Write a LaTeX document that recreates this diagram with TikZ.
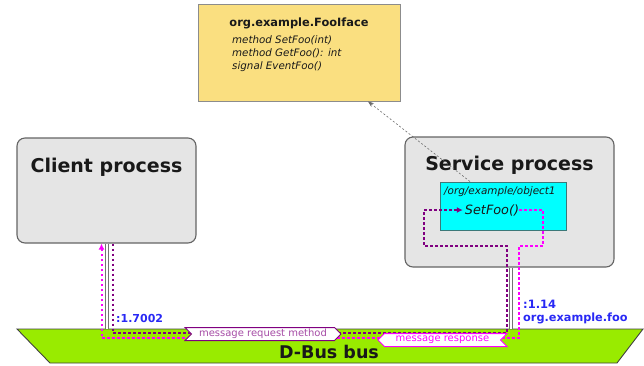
\documentclass[tikz,border=0pt]{standalone}
\usepackage{fontspec}
\setmainfont{DejaVu Sans}
\usetikzlibrary{shapes.symbols,arrows.meta}
\definecolor{boxgray}{RGB}{229,229,229}
\definecolor{bordergray}{RGB}{100,100,100}
\definecolor{ifaceyellow}{RGB}{250,223,128}
\definecolor{objcyan}{RGB}{0,255,255}
\definecolor{busgreen}{RGB}{153,235,0}
\definecolor{msgpurple}{RGB}{128,0,128}
\definecolor{msgmagenta}{RGB}{255,0,255}
\definecolor{addrblue}{RGB}{40,40,245}
\definecolor{inktext}{RGB}{25,25,25}
\tikzset{
  procbox/.style={draw=bordergray,line width=1.1pt,fill=boxgray,rounded corners=8pt,inner sep=0pt},
  objbox/.style={draw={rgb,255:red,60;green,120;blue,120},line width=0.9pt,fill=objcyan,inner sep=0pt},
  ifacebox/.style={draw={rgb,255:red,140;green,140;blue,140},line width=0.9pt,fill=ifaceyellow,inner sep=0pt},
  txt/.style={inner sep=0pt,text=inktext},
  conn/.style={draw=gray!90!black,line width=0.9pt,double=white,double distance=2pt},
  reqline/.style={draw=msgpurple,line width=2pt,dash pattern=on 2.5pt off 2.5pt},
  respline/.style={draw=msgmagenta,line width=2pt,dash pattern=on 2.5pt off 2.5pt},
  reqlabel/.style={signal,signal to=east,signal from=west,draw=msgpurple,line width=1pt,fill=white,
     text=msgpurple!70,inner sep=1pt,minimum height=13pt,font=\fontsize{10}{11}\selectfont},
  resplabel/.style={signal,signal to=west,signal from=east,draw=msgmagenta,line width=1pt,fill=white,
     text=msgmagenta,inner sep=1pt,minimum height=13pt,font=\fontsize{10}{11}\selectfont},
  addr/.style={inner sep=0pt,text=addrblue,font=\fontsize{11}{12}\selectfont\bfseries},
  methodtxt/.style={inner sep=0pt,anchor=west,text=inktext,font=\fontsize{10.3}{12}\selectfont\itshape},
  reftip/.style={-{Stealth[length=6pt,width=4.5pt]},draw=gray!85!black,line width=0.6pt,dash pattern=on 2pt off 2pt}
}
\begin{document}
\begin{tikzpicture}[x=1pt,y=-1pt]
\useasboundingbox (0,0) rectangle (644,365);
% bus
\draw[draw=black!75,line width=0.9pt,fill=busgreen] (17,329) -- (643,329) -- (617,363) -- (50,363) -- cycle;
\node[txt,font=\fontsize{17.5}{19}\selectfont\bfseries] (busname) at (329,352) {D-Bus bus};
\coordinate (bustop) at (0,329);
% boxes
\node[procbox,minimum width=179pt,minimum height=105pt] (client) at (106.5,190.5) {};
\node[procbox,minimum width=209pt,minimum height=130pt] (service) at (509.5,202) {};
\node[objbox,minimum width=126pt,minimum height=48pt] (object) at (503,206) {};
\node[ifacebox,minimum width=202pt,minimum height=97pt] (iface) at (299,52.5) {};
% connectors to bus
\draw[conn] ([xshift=0.5pt]client.south) -- ([xshift=0.5pt]client.south |- bustop);
\draw[conn] ([xshift=1.5pt]service.south) -- ([xshift=1.5pt]service.south |- bustop);
% texts
\node[txt,font=\fontsize{19}{21}\selectfont\bfseries] (clientname) at (106.5,167) {Client process};
\node[txt,font=\fontsize{19}{21}\selectfont\bfseries] (servicename) at (509.5,165) {Service process};
\node[txt,anchor=west,font=\fontsize{10.4}{12}\selectfont\itshape] (objpath) at (444,192) {/org/example/object1};
\node[txt,font=\fontsize{12.8}{14}\selectfont\itshape] (setfoo) at (492,210) {SetFoo()};
\node[txt,font=\fontsize{11.4}{13}\selectfont\bfseries] (ifacename) at (299,23) {org.example.FooIface};
\node[methodtxt] (m1) at (232,40) {method SetFoo(int)};
\node[methodtxt] (m2) at (232,53) {method GetFoo(): int};
\node[methodtxt] (m3) at (232,67) {signal EventFoo()};
% reference arrow
\draw[reftip] ([xshift=-33pt]object.north) -- ([xshift=69pt]iface.south);
% message paths
\coordinate (cin) at ([xshift=-5pt]client.south);
\coordinate (cout) at ([xshift=6pt]client.south);
\draw[respline,-{Latex[length=6pt,width=6pt]}] (setfoo.east) -- (543,210) -- (543,246) -- (519,246) -- (519,338) -- (101.5,338) -- (cin);
\draw[reqline,-{Latex[length=6pt,width=6pt]}] (cout) -- (112.5,333) -- (507,333) -- (507,246) -- (424,246) -- (424,210) -- ([xshift=-2pt]setfoo.west);
% labels
\node[reqlabel,minimum width=156pt] (req) at (263,334) {message request method};
\node[resplabel,minimum width=129pt] (resp) at (442.5,340) {message response};
\node[addr,anchor=west] (caddr) at (116,318) {:1.7002};
\node[addr,anchor=west,font=\fontsize{11.5}{12}\selectfont\bfseries] (saddr) at (523,304) {:1.14};
\node[addr,anchor=west,font=\fontsize{11.3}{12}\selectfont\bfseries] (sname) at (523,318) {org.example.foo};
\end{tikzpicture}
\end{document}
